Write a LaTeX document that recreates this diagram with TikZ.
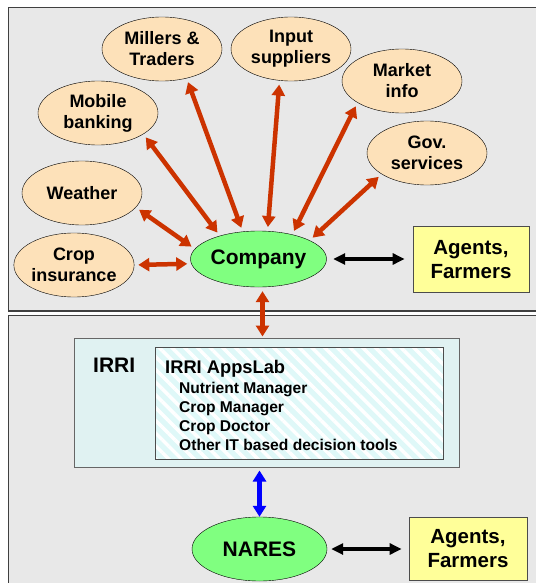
\documentclass[tikz,border=0pt]{standalone}
\usepackage{fontspec}
\setmainfont{Liberation Sans}
\usetikzlibrary{shapes.geometric, arrows.meta, patterns.meta}
\definecolor{panelgray}{RGB}{232,232,232}
\definecolor{peach}{RGB}{253,225,185}
\definecolor{hubgreen}{RGB}{128,255,128}
\definecolor{useryellow}{RGB}{255,255,153}
\definecolor{linkred}{RGB}{204,51,0}
\definecolor{linkblue}{RGB}{0,0,255}
\definecolor{irricyan}{RGB}{224,242,242}

\begin{document}
\begin{tikzpicture}[x=1bp,y=-1bp,
  partner/.style={ellipse,draw=black,fill=peach,minimum width=120bp,minimum height=64bp,
    inner sep=0pt,align=center,font=\fontsize{18bp}{21bp}\selectfont\bfseries},
  hub/.style={ellipse,draw=black,fill=hubgreen,inner sep=0pt,
    font=\fontsize{21bp}{24bp}\selectfont\bfseries},
  users/.style={rectangle,draw=black!70,line width=0.8bp,fill=useryellow,inner sep=0pt,
    align=center,font=\fontsize{20.5bp}{24bp}\selectfont\bfseries},
  panel/.style={draw=black!75,line width=1.5bp,fill=panelgray},
  link/.style={line width=4.5bp,linkred,shorten <=4bp,shorten >=4bp,
    {Triangle[length=11bp,width=13bp]}-{Triangle[length=11bp,width=13bp]}},
  duplex/.style={line width=4bp,black,
    {Triangle[length=12bp,width=11bp]}-{Triangle[length=12bp,width=11bp]}}
]
\clip (0,0) rectangle (536,583);

\draw[panel] (8.5,7.5) rectangle (545,311);
\draw[panel] (8.5,315.5) rectangle (545,595);

% partners round the company
\node[partner] (mill)    at (162,49)  {Millers \&\\Traders};
\node[partner] (input)   at (291,49)  {Input\\suppliers};
\node[partner] (market)  at (402,81)  {Market\\info};
\node[partner] (gov)     at (427,153) {Gov.\\services};
\node[partner] (mobile)  at (98,113)  {Mobile\\banking};
\node[partner] (weather) at (82,193)  {Weather};
\node[partner] (cropins) at (74,265)  {Crop\\insurance};

\node[hub,minimum width=136bp,minimum height=56bp] (company) at (258.5,259) {Company};
\node[users,minimum width=116bp,minimum height=66bp] (agentsA) at (471,259.3) {Agents,\\Farmers};

\draw[link] (mill.-50)    -- (company.120);
\draw[link] (mobile.-25)  -- (company.149);
\draw[link] (weather.-15) -- (company.171);
\draw[link] (cropins.0)   -- (company.184.5);
\draw[link] (input.250)   -- (company.72);
\draw[link] (market.206)  -- (company.36);
\draw[link] (gov.205)     -- (company.20.5);
\draw[duplex,shorten <=6.5bp,shorten >=8bp] (company.east) -- (company.east -| agentsA.west);

% IRRI
\node[draw=black!60,line width=1bp,fill=irricyan,minimum width=384bp,minimum height=129bp,
  inner sep=0pt] (irri) at (267,402.5) {};
\node[draw=black!70,line width=1bp,minimum width=288bp,minimum height=112bp,inner sep=0pt,
  preaction={fill=irricyan!90!cyan!60!white},
  pattern={Lines[angle=-45,distance=9bp,line width=3.5bp]},pattern color=white]
  (appslab) at (299,403) {};
\node[anchor=base west,inner sep=0pt,font=\fontsize{21bp}{24bp}\selectfont\bfseries]
  (irrititle) at (93,372) {IRRI};
\node[anchor=base west,inner sep=0pt,font=\fontsize{18.3bp}{22bp}\selectfont\bfseries]
  (appstitle) at (165,373) {IRRI AppsLab};
\foreach \tool [count=\i from 0] in {Nutrient Manager,Crop Manager,Crop Doctor,Other IT based decision tools}
  \node[anchor=base west,inner sep=0pt,font=\fontsize{15.6bp}{19bp}\selectfont\bfseries]
    (tool\i) at (179,393+19*\i) {\tool};

\draw[link,shorten >=1bp] ([xshift=4bp]company.south) -- ([xshift=4bp]company.south |- irri.north);

% NARES
\node[hub,minimum width=135bp,minimum height=64bp] (nares) at (259.5,549) {NARES};
\node[users,minimum width=118bp,minimum height=63bp] (agentsB) at (468,548.5) {Agents,\\Farmers};

\draw[line width=4.5bp,linkblue,shorten <=3bp,
  {Triangle[length=11bp,width=13bp]}-{Triangle[length=11bp,width=13bp]}]
  (irri.south -| nares.north) -- (nares.north);
\draw[duplex,shorten <=4bp,shorten >=7bp] (nares.east) -- (nares.east -| agentsB.west);
\end{tikzpicture}
\end{document}
